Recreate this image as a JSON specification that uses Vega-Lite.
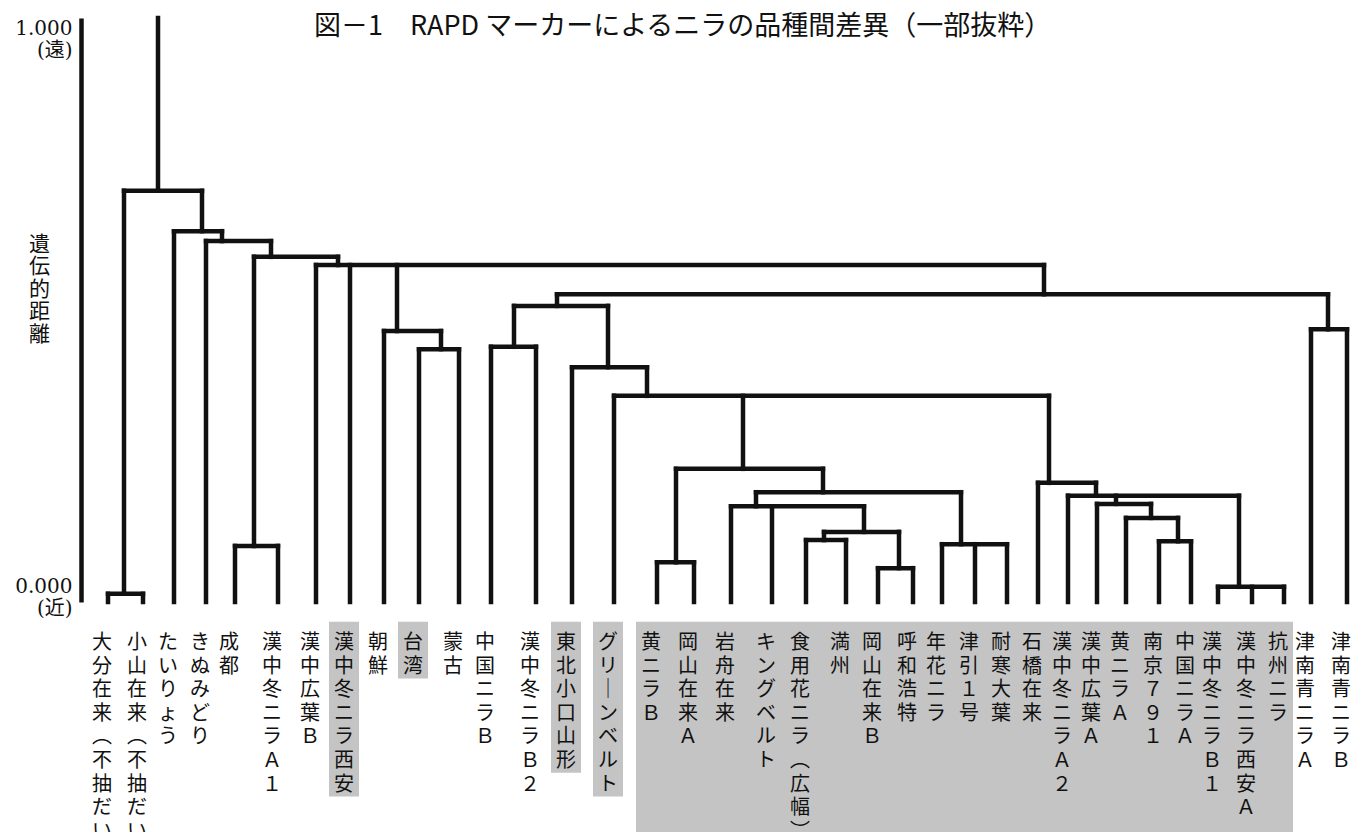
{
  "$schema": "https://vega.github.io/schema/vega-lite/v6.json",
  "background": "white",
  "padding": {"left": 14, "top": 12, "right": 0, "bottom": 0},
  "spacing": 0,
  "bounds": "flush",
  "config": {"view": {"stroke": null}},
  "datasets": {
    "leaves": [
      {"label": "大分在来（不抽だい）", "pos": 27, "join": 0.014},
      {"label": "小山在来（不抽だい）", "pos": 62, "join": 0.014},
      {"label": "たいりょう", "pos": 93, "join": 0.635},
      {"label": "きぬみどり", "pos": 125, "join": 0.618},
      {"label": "成都", "pos": 154, "join": 0.096},
      {"label": "漢中冬ニラＡ１", "pos": 197, "join": 0.096},
      {"label": "漢中広葉Ｂ", "pos": 235, "join": 0.577},
      {"label": "漢中冬ニラ西安", "pos": 269, "join": 0.577},
      {"label": "朝鮮", "pos": 303, "join": 0.464},
      {"label": "台湾", "pos": 338, "join": 0.433},
      {"label": "蒙古", "pos": 378, "join": 0.433},
      {"label": "中国ニラＢ", "pos": 410, "join": 0.437},
      {"label": "漢中冬ニラＢ２", "pos": 455, "join": 0.437},
      {"label": "東北小口山形", "pos": 491, "join": 0.402},
      {"label": "グリーンベルト", "pos": 533, "join": 0.353},
      {"label": "黄ニラＢ", "pos": 576, "join": 0.068},
      {"label": "岡山在来Ａ", "pos": 613, "join": 0.068},
      {"label": "岩舟在来", "pos": 650, "join": 0.164},
      {"label": "キングベルト", "pos": 691, "join": 0.164},
      {"label": "食用花ニラ（広幅）", "pos": 725, "join": 0.106},
      {"label": "満州", "pos": 765, "join": 0.106},
      {"label": "岡山在来Ｂ", "pos": 797, "join": 0.058},
      {"label": "呼和浩特", "pos": 832, "join": 0.058},
      {"label": "年花ニラ", "pos": 861, "join": 0.099},
      {"label": "津引１号", "pos": 894, "join": 0.099},
      {"label": "耐寒大葉", "pos": 926, "join": 0.099},
      {"label": "石橋在来", "pos": 957, "join": 0.204},
      {"label": "漢中冬ニラＡ２", "pos": 987, "join": 0.182},
      {"label": "漢中広葉Ａ", "pos": 1016, "join": 0.168},
      {"label": "黄ニラＡ", "pos": 1045, "join": 0.144},
      {"label": "南京７９１", "pos": 1078, "join": 0.104},
      {"label": "中国ニラＡ", "pos": 1110, "join": 0.104},
      {"label": "漢中冬ニラＢ１", "pos": 1137, "join": 0.026},
      {"label": "漢中冬ニラ西安Ａ", "pos": 1171, "join": 0.026},
      {"label": "抗州ニラ", "pos": 1203, "join": 0.026},
      {"label": "津南青ニラＡ", "pos": 1230, "join": 0.467},
      {"label": "津南青ニラＢ", "pos": 1266, "join": 0.467}
    ],
    "crossbars": [
      {"from": 43, "to": 121, "d": 0.704},
      {"from": 27, "to": 62, "d": 0.014},
      {"from": 93, "to": 141, "d": 0.635},
      {"from": 125, "to": 190, "d": 0.618},
      {"from": 173, "to": 257, "d": 0.591},
      {"from": 154, "to": 197, "d": 0.096},
      {"from": 235, "to": 963, "d": 0.577},
      {"from": 303, "to": 360, "d": 0.464},
      {"from": 338, "to": 378, "d": 0.433},
      {"from": 476, "to": 1247, "d": 0.527},
      {"from": 1230, "to": 1266, "d": 0.467},
      {"from": 433, "to": 527, "d": 0.507},
      {"from": 410, "to": 455, "d": 0.437},
      {"from": 491, "to": 566, "d": 0.402},
      {"from": 533, "to": 968, "d": 0.353},
      {"from": 595, "to": 742, "d": 0.228},
      {"from": 576, "to": 613, "d": 0.068},
      {"from": 675, "to": 880, "d": 0.188},
      {"from": 650, "to": 783, "d": 0.164},
      {"from": 743, "to": 818, "d": 0.120},
      {"from": 725, "to": 765, "d": 0.106},
      {"from": 797, "to": 832, "d": 0.058},
      {"from": 861, "to": 926, "d": 0.099},
      {"from": 957, "to": 1015, "d": 0.204},
      {"from": 987, "to": 1158, "d": 0.182},
      {"from": 1016, "to": 1070, "d": 0.168},
      {"from": 1045, "to": 1097, "d": 0.144},
      {"from": 1078, "to": 1110, "d": 0.104},
      {"from": 1137, "to": 1203, "d": 0.026}
    ],
    "stems": [
      {"pos": 77, "lo": 0.704, "hi": 1.0},
      {"pos": 43, "lo": 0.014, "hi": 0.704},
      {"pos": 121, "lo": 0.635, "hi": 0.704},
      {"pos": 141, "lo": 0.618, "hi": 0.635},
      {"pos": 190, "lo": 0.591, "hi": 0.618},
      {"pos": 173, "lo": 0.096, "hi": 0.591},
      {"pos": 257, "lo": 0.577, "hi": 0.591},
      {"pos": 316, "lo": 0.464, "hi": 0.577},
      {"pos": 360, "lo": 0.433, "hi": 0.464},
      {"pos": 963, "lo": 0.527, "hi": 0.577},
      {"pos": 1247, "lo": 0.467, "hi": 0.527},
      {"pos": 476, "lo": 0.507, "hi": 0.527},
      {"pos": 433, "lo": 0.437, "hi": 0.507},
      {"pos": 527, "lo": 0.402, "hi": 0.507},
      {"pos": 566, "lo": 0.353, "hi": 0.402},
      {"pos": 662, "lo": 0.228, "hi": 0.353},
      {"pos": 968, "lo": 0.204, "hi": 0.353},
      {"pos": 595, "lo": 0.068, "hi": 0.228},
      {"pos": 742, "lo": 0.188, "hi": 0.228},
      {"pos": 675, "lo": 0.164, "hi": 0.188},
      {"pos": 783, "lo": 0.120, "hi": 0.164},
      {"pos": 743, "lo": 0.106, "hi": 0.120},
      {"pos": 818, "lo": 0.058, "hi": 0.120},
      {"pos": 880, "lo": 0.099, "hi": 0.188},
      {"pos": 1015, "lo": 0.182, "hi": 0.204},
      {"pos": 1035, "lo": 0.168, "hi": 0.182},
      {"pos": 1070, "lo": 0.144, "hi": 0.168},
      {"pos": 1097, "lo": 0.104, "hi": 0.144},
      {"pos": 1158, "lo": 0.026, "hi": 0.182}
    ],
    "shades": [
      {"from": 269, "to": 269, "chars": 7},
      {"from": 338, "to": 338, "chars": 2},
      {"from": 491, "to": 491, "chars": 6},
      {"from": 533, "to": 533, "chars": 7},
      {"from": 576, "to": 1203, "chars": 9}
    ]
  },
  "vconcat": [
    {
      "width": 1271,
      "height": 584,
      "title": {
        "text": "図－1　RAPD マーカーによるニラの品種間差異（一部抜粋）",
        "frame": "group",
        "anchor": "start",
        "dx": 233,
        "offset": -26,
        "font": "Noto Sans CJK JP",
        "fontSize": 27,
        "fontWeight": "normal",
        "color": "#111111"
      },
      "layer": [
        {
          "data": {"name": "crossbars"},
          "mark": {"type": "rule", "strokeWidth": 4.5, "strokeCap": "square", "color": "#111111"},
          "encoding": {
            "x": {"field": "from", "type": "quantitative", "scale": {"domain": [0, 1271], "nice": false, "zero": false}, "axis": null},
            "x2": {"field": "to"},
            "y": {
              "field": "d",
              "type": "quantitative",
              "scale": {"domain": [0, 1], "nice": false, "zero": false},
              "axis": {
                "values": [0, 1],
                "title": ["遺", "伝", "的", "距", "離"],
                "titleAngle": 0,
                "titleX": -42,
                "titleY": 226,
                "titleAlign": "center",
                "titleBaseline": "middle",
                "titleFont": "Noto Sans CJK JP",
                "titleFontSize": 21,
                "titleFontWeight": "normal",
                "titleLineHeight": 22.5,
                "titleColor": "#111111",
                "labelExpr": "datum.value == 1 ? ['1.000', '(遠)'] : ['0.000', '(近)']",
                "labelFont": "DejaVu Serif, Noto Sans CJK JP",
                "labelFontSize": 20,
                "labelLineHeight": 22,
                "labelColor": "#111111",
                "labelBaseline": {"condition": {"test": "datum.value == 1", "value": "top"}, "value": "middle"},
                "labelOffset": {"condition": {"test": "datum.value == 0", "value": -16}, "value": 0},
                "labelPadding": 9,
                "labelOverlap": false,
                "labelFlush": false,
                "ticks": false,
                "grid": false,
                "domainWidth": 4.5,
                "domainColor": "#111111"
              }
            }
          }
        },
        {
          "data": {"name": "stems"},
          "mark": {"type": "rule", "strokeWidth": 4.5, "strokeCap": "square", "color": "#111111"},
          "encoding": {
            "x": {"field": "pos", "type": "quantitative"},
            "y": {"field": "lo", "type": "quantitative"},
            "y2": {"field": "hi"}
          }
        },
        {
          "data": {"name": "leaves"},
          "mark": {"type": "rule", "strokeWidth": 4.5, "strokeCap": "square", "color": "#111111"},
          "encoding": {
            "x": {"field": "pos", "type": "quantitative"},
            "y": {"field": "join", "type": "quantitative"},
            "y2": {"datum": 0}
          }
        }
      ]
    },
    {
      "width": 1271,
      "height": 234,
      "layer": [
        {
          "data": {"name": "shades"},
          "transform": [{"calculate": "datum.chars + 0.5", "as": "bottom"}],
          "mark": {"type": "rect", "color": "#c4c4c4", "xOffset": -21, "x2Offset": 9, "clip": true},
          "encoding": {
            "x": {"field": "from", "type": "quantitative", "scale": {"domain": [0, 1271], "nice": false, "zero": false}, "axis": null},
            "x2": {"field": "to"},
            "y": {"field": "bottom", "type": "quantitative", "scale": {"domain": [-0.737, 9.178], "nice": false, "zero": false, "reverse": true}, "axis": null},
            "y2": {"datum": 0.1}
          }
        },
        {
          "data": {"name": "leaves"},
          "transform": [
            {"calculate": "split(datum.label, '')", "as": "chars"},
            {"flatten": ["chars"], "as": ["ch"]},
            {"window": [{"op": "row_number", "as": "k"}], "groupby": ["label"]},
            {"calculate": "datum.ch === '（' ? '︵' : datum.ch === '）' ? '︶' : datum.ch === 'ー' ? '｜' : datum.ch", "as": "glyph"}
          ],
          "mark": {"type": "text", "font": "Noto Sans CJK JP", "fontSize": 20, "color": "#111111", "align": "center", "baseline": "middle", "dx": -6, "clip": true},
          "encoding": {
            "x": {"field": "pos", "type": "quantitative", "axis": null},
            "y": {"field": "k", "type": "quantitative", "axis": null},
            "text": {"field": "glyph"}
          }
        }
      ]
    }
  ]
}
